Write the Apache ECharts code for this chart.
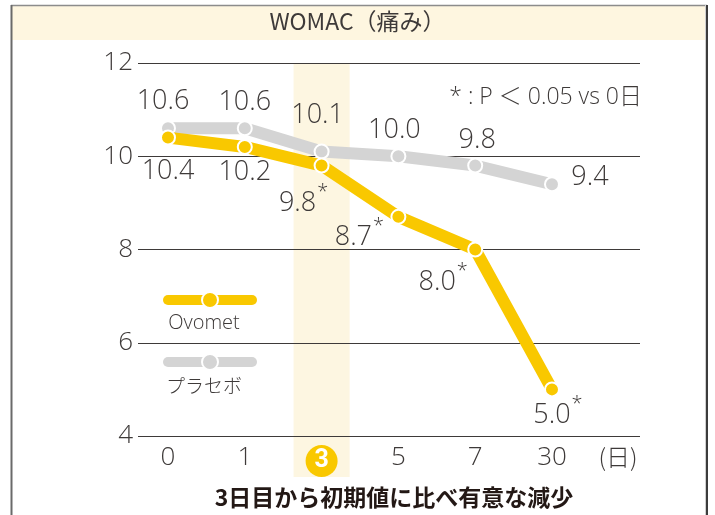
<!DOCTYPE html>
<html><head><meta charset="utf-8">
<script src="https://cdn.jsdelivr.net/npm/echarts@6/dist/echarts.min.js"></script>
<style>html,body{margin:0;padding:0;background:#fff}#c{width:715px;height:515px}</style>
</head><body><div id="c"></div>
<script>
// ---- data ----
const categories = ['0', '1', '3', '5', '7', '30'];
const unitLabel = '(日)';
const seriesNames = ['Ovomet', 'プラセボ'];
const ovomet = [10.4, 10.2, 9.8, 8.7, 8.0, 5.0];
const placebo = [10.6, 10.6, 10.1, 10.0, 9.8, 9.4];
const ovometSig = [false, false, true, true, true, true];
const yTicks = [4, 6, 8, 10, 12];
const highlightIndex = 2;
const titleText = 'WOMAC（痛み）';
const noteText = '* : P ＜ 0.05 vs 0日';
const footText = '3日目から初期値に比べ有意な減少';

// ---- layout / style ----
const TXT = '#3e3a39';
const YEL = '#f9c800';
const GRY = '#d4d4d4';
const BAND = '#fdf6e1';
const NUMFONT = "'Open Sans', 'Noto Sans', 'Noto Sans CJK JP', sans-serif";
const JPFONT = "'Noto Sans CJK JP', sans-serif";
const xMin = -0.3906, xMax = 6.146;
const unitPos = 5.86;
const ovoOffsets = [[0, 34], [0, 25], [-18, 38], [-39, 20], [-32, 33], [6, 26]];
const plaOffsets = [[-5, -27], [0, -26], [-4, -36], [-4, -26], [2, -25], [38, -7]];

const gridL = 138, gridT = 63, gridW = 502, gridH = 373, dataH = 414;
const yMax = yTicks[yTicks.length - 1], yMin = yTicks[0];
const dataYMin = yMax - dataH * (yMax - yMin) / gridH;

const numRich = {
  v: { fontFamily: NUMFONT, fontSize: 27, fontWeight: 300, color: TXT, lineHeight: 28 },
  s: { fontFamily: NUMFONT, fontSize: 20, fontWeight: 300, color: TXT, lineHeight: 6, height: 6, verticalAlign: 'top', padding: [0, 0, 0, 1] }
};

function buildData(vals, offsets, sig) {
  return vals.map((v, i) => ({
    value: [i, v],
    label: {
      show: true,
      position: 'inside',
      offset: offsets[i],
      formatter: () => '{v|' + v.toFixed(1) + '}' + (sig && sig[i] ? '{s|*}' : ''),
      rich: numRich
    }
  }));
}

const chart = echarts.init(document.getElementById('c'), null, { renderer: 'canvas' });
chart.setOption({
  animation: false,
  backgroundColor: '#fff',
  title: {
    text: titleText, left: 'center', top: 10, padding: 0,
    textStyle: { fontFamily: JPFONT, fontSize: 23, fontWeight: 'normal', color: TXT }
  },
  grid: [
    { left: gridL, top: gridT, width: gridW, height: gridH, outerBoundsMode: 'none' },
    { left: gridL, top: gridT, width: gridW, height: dataH, outerBoundsMode: 'none' }
  ],
  xAxis: [
    {
      gridIndex: 0, type: 'value', min: xMin, max: xMax, z: 4,
      axisLine: { show: false }, axisTick: { show: false }, splitLine: { show: false },
      axisLabel: {
        customValues: categories.map((c, i) => i).concat([unitPos]),
        margin: 9,
        fontFamily: NUMFONT, fontSize: 26, fontWeight: 300, color: TXT,
        formatter: (val) => {
          if (Math.abs(val - unitPos) < 1e-6) return '{u|' + unitLabel + '}';
          const i = Math.round(val);
          if (i === highlightIndex) return '{c|' + categories[i] + '}';
          return categories[i];
        },
        rich: {
          c: { width: 32, height: 32, lineHeight: 32, borderRadius: 16, backgroundColor: YEL,
               color: '#fff', fontSize: 25, fontWeight: 'bold', fontFamily: "Roboto, sans-serif", align: 'center' },
          u: { fontFamily: JPFONT, fontSize: 24, fontWeight: 300, color: TXT }
        }
      }
    },
    {
      gridIndex: 1, type: 'value', min: xMin, max: xMax, show: false
    }
  ],
  yAxis: [
    {
      gridIndex: 0, type: 'value', min: yMin, max: yMax, interval: 2, z: 2,
      axisLine: { show: false }, axisTick: { show: false },
      splitLine: { show: true, lineStyle: { color: TXT, width: 1 } },
      axisLabel: { margin: 5, fontFamily: NUMFONT, fontSize: 26, fontWeight: 300, color: TXT }
    },
    {
      gridIndex: 1, type: 'value', min: dataYMin, max: yMax, show: false
    }
  ],
  legend: {
    data: seriesNames,
    orient: 'vertical', left: 163, top: 290, padding: 0,
    itemWidth: 84, itemHeight: 20, itemGap: 43,
    formatter: () => '',
    lineStyle: { width: 10, cap: 'round' },
    itemStyle: { borderColor: '#fff', borderWidth: 2 },
    selectedMode: false
  },
  series: [
    {
      type: 'line', xAxisIndex: 1, yAxisIndex: 1, data: [], silent: true, z: 1,
      markArea: {
        silent: true, z: 1,
        itemStyle: { color: BAND },
        data: [[{ xAxis: highlightIndex - 0.365 }, { xAxis: highlightIndex + 0.365 }]]
      }
    },
    {
      name: seriesNames[1], type: 'line', xAxisIndex: 1, yAxisIndex: 1, z: 5,
      data: buildData(placebo, plaOffsets, null),
      symbol: 'circle', symbolSize: 14,
      lineStyle: { color: GRY, width: 12 },
      itemStyle: { color: GRY, borderColor: '#fff', borderWidth: 2 }
    },
    {
      name: seriesNames[0], type: 'line', xAxisIndex: 1, yAxisIndex: 1, z: 6,
      data: buildData(ovomet, ovoOffsets, ovometSig),
      symbol: 'circle', symbolSize: 14,
      lineStyle: { color: YEL, width: 12 },
      itemStyle: { color: YEL, borderColor: '#fff', borderWidth: 2 }
    }
  ],
  graphic: [
    { type: 'rect', z: -10, shape: { x: 12, y: 6, width: 694, height: 34 }, style: { fill: '#fef6e0' } },
    { type: 'line', z: 10, shape: { x1: 11, y1: 5.5, x2: 707, y2: 5.5 }, style: { stroke: '#8c8c8c', lineWidth: 1.5 } },
    { type: 'line', z: 10, shape: { x1: 11.5, y1: 5, x2: 11.5, y2: 515 }, style: { stroke: '#6a6a6a', lineWidth: 2 } },
    { type: 'line', z: 10, shape: { x1: 707, y1: 5, x2: 707, y2: 515 }, style: { stroke: '#3c3c3c', lineWidth: 2 } },
    { type: 'line', z: 10, shape: { x1: 705.5, y1: 5, x2: 705.5, y2: 515 }, style: { stroke: '#d0d0d0', lineWidth: 1 } },
    { type: 'text', x: 642, y: 97, style: { text: noteText, align: 'right', verticalAlign: 'middle',
        font: "300 23px 'Open Sans', 'Noto Sans CJK JP', sans-serif", fill: TXT } },
    { type: 'text', x: 204, y: 323, style: { text: seriesNames[0], align: 'center', verticalAlign: 'middle',
        font: "300 20px 'Open Sans', 'Noto Sans CJK JP', sans-serif", fill: TXT } },
    { type: 'text', x: 204, y: 386, style: { text: seriesNames[1], align: 'center', verticalAlign: 'middle',
        font: "300 19px 'Noto Sans CJK JP', sans-serif", fill: TXT } },
    { type: 'text', x: 394, y: 497, style: { text: footText, align: 'center', verticalAlign: 'middle',
        font: "bold 23px 'Noto Sans CJK JP', sans-serif", fill: '#231815' } }
  ]
});
</script>
</body></html>
